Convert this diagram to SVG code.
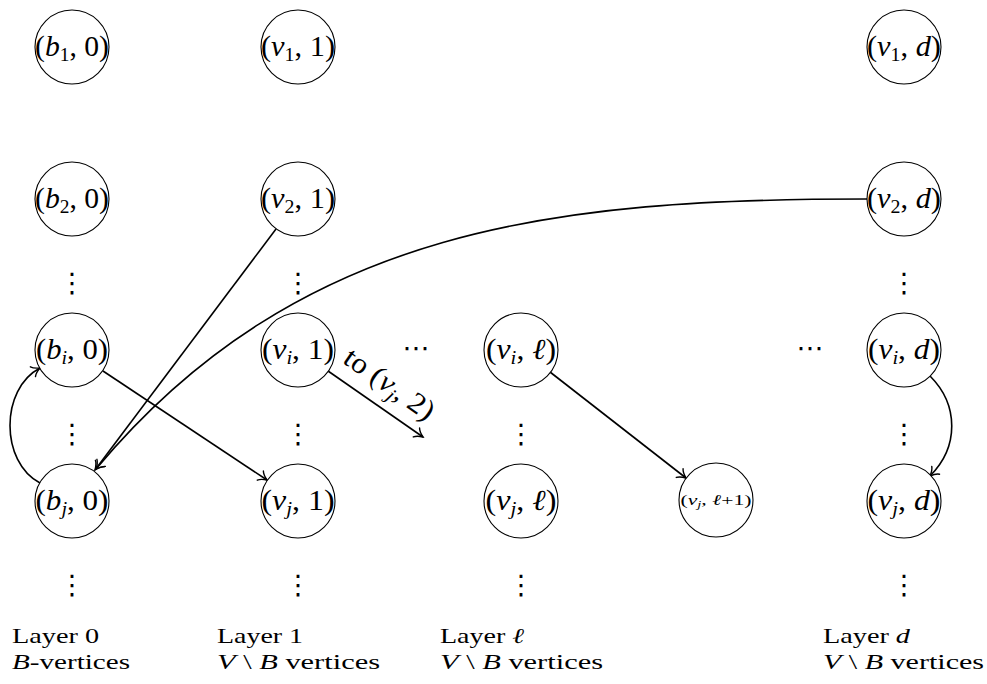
<svg xmlns="http://www.w3.org/2000/svg" width="987" height="684" viewBox="0 0 987 684">
<style>
.bg{fill:#fff}
.node circle{fill:#fff;stroke:#000;stroke-width:1.1}
.nl{font-family:"Liberation Serif","Times New Roman",serif;font-size:29px;fill:#000;text-anchor:middle}
.it{font-style:italic}
.sub{font-size:19px}
.edge{fill:none;stroke:#000;stroke-width:1.6}
.dots{font-family:"DejaVu Serif","DejaVu Sans",serif;font-size:27px;fill:#000;text-anchor:middle}
.lab{font-family:"Liberation Serif","Times New Roman",serif;font-size:21px;fill:#000}
</style>
<defs>
<marker id="arr" markerUnits="userSpaceOnUse" markerWidth="20" markerHeight="20" refX="0" refY="0" viewBox="-10 -10 20 20" orient="auto" overflow="visible">
<path d="M-8,-5.5 C-6,-2.5 -2,-0.8 0,0 C-2,0.8 -6,2.5 -8,5.5" fill="none" stroke="#000" stroke-width="1.4" stroke-linecap="round"/>
</marker>
</defs>
<rect class="bg" x="0" y="0" width="987" height="684"/>

<g id="dots">
<text class="dots" x="72" y="292">⋮</text>
<text class="dots" x="298" y="292">⋮</text>
<text class="dots" x="904" y="292">⋮</text>
<text class="dots" x="72" y="443">⋮</text>
<text class="dots" x="298" y="443">⋮</text>
<text class="dots" x="521" y="443">⋮</text>
<text class="dots" x="904" y="443">⋮</text>
<text class="dots" x="72" y="594">⋮</text>
<text class="dots" x="298" y="594">⋮</text>
<text class="dots" x="521" y="594">⋮</text>
<text class="dots" x="904" y="594">⋮</text>
<text class="dots" x="416" y="357" textLength="24" lengthAdjust="spacing">⋯</text>
<text class="dots" x="810" y="357" textLength="24" lengthAdjust="spacing">⋯</text>
</g>

<g id="connectors">
<path class="edge" d="M103,371 L267,480" marker-end="url(#arr)"/>
<path class="edge" d="M40,483 C0,462 0,389 40,368" marker-end="url(#arr)"/>
<path class="edge" d="M276,229 L95,470" marker-end="url(#arr)"/>
<path class="edge" d="M867,199 C560,199 300,225 96,469" marker-end="url(#arr)"/>
<path class="edge" d="M328,371 L423,437" marker-end="url(#arr)"/>
<path class="edge" d="M550,372 L686,478" marker-end="url(#arr)"/>
<path class="edge" d="M930,376 C959,405 959,447 930,476" marker-end="url(#arr)"/>
<text class="nl" transform="translate(375.5,404) rotate(35)" x="0" y="-15" textLength="104" lengthAdjust="spacingAndGlyphs">to (<tspan class="it">v</tspan><tspan class="sub it" dy="5">j</tspan><tspan dy="-5">, 2)</tspan></text>
</g>

<g id="n_b1" class="node"><circle cx="72" cy="47" r="37"/><text class="nl" x="72" y="56" textLength="74" lengthAdjust="spacingAndGlyphs">(<tspan class="it">b</tspan><tspan class="sub" dy="5">1</tspan><tspan dy="-5">, 0)</tspan></text></g>
<g id="n_b2" class="node"><circle cx="72" cy="199" r="37"/><text class="nl" x="72" y="208" textLength="74" lengthAdjust="spacingAndGlyphs">(<tspan class="it">b</tspan><tspan class="sub" dy="5">2</tspan><tspan dy="-5">, 0)</tspan></text></g>
<g id="n_bi" class="node"><circle cx="72" cy="350" r="37"/><text class="nl" x="72" y="359" textLength="72" lengthAdjust="spacingAndGlyphs">(<tspan class="it">b</tspan><tspan class="sub it" dy="5">i</tspan><tspan dy="-5">, 0)</tspan></text></g>
<g id="n_bj" class="node"><circle cx="72" cy="501" r="37"/><text class="nl" x="72" y="510" textLength="73" lengthAdjust="spacingAndGlyphs">(<tspan class="it">b</tspan><tspan class="sub it" dy="5">j</tspan><tspan dy="-5">, 0)</tspan></text></g>

<g id="n_v1_1" class="node"><circle cx="298" cy="47" r="37"/><text class="nl" x="298" y="56" textLength="74" lengthAdjust="spacingAndGlyphs">(<tspan class="it">v</tspan><tspan class="sub" dy="5">1</tspan><tspan dy="-5">, 1)</tspan></text></g>
<g id="n_v2_1" class="node"><circle cx="298" cy="199" r="37"/><text class="nl" x="298" y="208" textLength="74" lengthAdjust="spacingAndGlyphs">(<tspan class="it">v</tspan><tspan class="sub" dy="5">2</tspan><tspan dy="-5">, 1)</tspan></text></g>
<g id="n_vi_1" class="node"><circle cx="298" cy="350" r="37"/><text class="nl" x="298" y="359" textLength="72" lengthAdjust="spacingAndGlyphs">(<tspan class="it">v</tspan><tspan class="sub it" dy="5">i</tspan><tspan dy="-5">, 1)</tspan></text></g>
<g id="n_vj_1" class="node"><circle cx="298" cy="501" r="37"/><text class="nl" x="298" y="510" textLength="73" lengthAdjust="spacingAndGlyphs">(<tspan class="it">v</tspan><tspan class="sub it" dy="5">j</tspan><tspan dy="-5">, 1)</tspan></text></g>

<g id="n_vi_l" class="node"><circle cx="521" cy="350" r="37"/><text class="nl" x="521" y="359" textLength="70" lengthAdjust="spacingAndGlyphs">(<tspan class="it">v</tspan><tspan class="sub it" dy="5">i</tspan><tspan dy="-5">, <tspan class="it">ℓ</tspan>)</tspan></text></g>
<g id="n_vj_l" class="node"><circle cx="521" cy="501" r="37"/><text class="nl" x="521" y="510" textLength="71" lengthAdjust="spacingAndGlyphs">(<tspan class="it">v</tspan><tspan class="sub it" dy="5">j</tspan><tspan dy="-5">, <tspan class="it">ℓ</tspan>)</tspan></text></g>
<g id="n_vj_l1" class="node"><circle cx="716" cy="500" r="37"/><text class="nl" x="716" y="505" style="font-size:15px" textLength="71" lengthAdjust="spacingAndGlyphs">(<tspan class="it">v</tspan><tspan class="it" style="font-size:10px" dy="3">j</tspan><tspan dy="-3">, <tspan class="it">ℓ</tspan>+1)</tspan></text></g>

<g id="n_v1_d" class="node"><circle cx="904" cy="47" r="37"/><text class="nl" x="904" y="56" textLength="74" lengthAdjust="spacingAndGlyphs">(<tspan class="it">v</tspan><tspan class="sub" dy="5">1</tspan><tspan dy="-5">, <tspan class="it">d</tspan>)</tspan></text></g>
<g id="n_v2_d" class="node"><circle cx="904" cy="199" r="37"/><text class="nl" x="904" y="208" textLength="74" lengthAdjust="spacingAndGlyphs">(<tspan class="it">v</tspan><tspan class="sub" dy="5">2</tspan><tspan dy="-5">, <tspan class="it">d</tspan>)</tspan></text></g>
<g id="n_vi_d" class="node"><circle cx="904" cy="350" r="37"/><text class="nl" x="904" y="359" textLength="72" lengthAdjust="spacingAndGlyphs">(<tspan class="it">v</tspan><tspan class="sub it" dy="5">i</tspan><tspan dy="-5">, <tspan class="it">d</tspan>)</tspan></text></g>
<g id="n_vj_d" class="node"><circle cx="904" cy="501" r="37"/><text class="nl" x="904" y="510" textLength="73" lengthAdjust="spacingAndGlyphs">(<tspan class="it">v</tspan><tspan class="sub it" dy="5">j</tspan><tspan dy="-5">, <tspan class="it">d</tspan>)</tspan></text></g>

<g id="labels">
<text class="lab" x="12" y="643" textLength="87" lengthAdjust="spacingAndGlyphs">Layer 0</text>
<text class="lab" x="12" y="669" textLength="118" lengthAdjust="spacingAndGlyphs"><tspan class="it">B</tspan>-vertices</text>
<text class="lab" x="217" y="643" textLength="86" lengthAdjust="spacingAndGlyphs">Layer 1</text>
<text class="lab" x="217" y="669" textLength="163" lengthAdjust="spacingAndGlyphs"><tspan class="it">V</tspan> \ <tspan class="it">B</tspan> vertices</text>
<text class="lab" x="440" y="643" textLength="84" lengthAdjust="spacingAndGlyphs">Layer <tspan class="it">ℓ</tspan></text>
<text class="lab" x="440" y="669" textLength="163" lengthAdjust="spacingAndGlyphs"><tspan class="it">V</tspan> \ <tspan class="it">B</tspan> vertices</text>
<text class="lab" x="823" y="643" textLength="87" lengthAdjust="spacingAndGlyphs">Layer <tspan class="it">d</tspan></text>
<text class="lab" x="823" y="669" textLength="161" lengthAdjust="spacingAndGlyphs"><tspan class="it">V</tspan> \ <tspan class="it">B</tspan> vertices</text>
</g>
</svg>
